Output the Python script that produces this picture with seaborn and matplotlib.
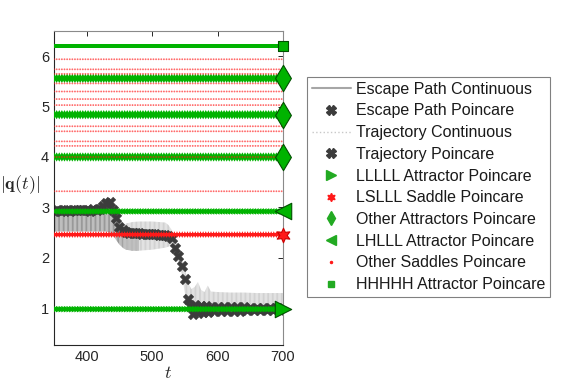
import numpy as np
import matplotlib
matplotlib.use("Agg")
import matplotlib.pyplot as plt
from matplotlib.lines import Line2D
import seaborn as sns

# ---------------- data ----------------
# Poincare samples of the escape path
esc_t = [350, 355, 360, 365, 370, 375, 380, 385, 390, 395, 400, 405, 410, 415, 420,
         425, 430, 435, 440, 445, 450, 455, 460, 465, 470, 475, 480, 485, 490, 495,
         500, 505, 510, 515, 520, 525, 530, 535, 540, 545, 550, 555]
esc_q = [2.93, 2.94, 2.93, 2.95, 2.94, 2.93, 2.95, 2.94, 2.94, 2.95, 2.94, 2.93, 2.96, 2.95, 2.97,
         3.02, 3.08, 3.10, 2.95, 2.78, 2.62, 2.55, 2.52, 2.50, 2.50, 2.49, 2.49, 2.48, 2.48, 2.48,
         2.47, 2.47, 2.46, 2.46, 2.45, 2.43, 2.40, 2.20, 2.03, 1.84, 1.58, 1.18]
# Poincare samples of the trajectory after the escape
trj_t = [558, 562, 566, 570, 574, 578, 582, 586, 590, 595, 600, 605, 610, 615, 620, 625,
         630, 635, 640, 645, 650, 655, 660, 665, 670, 675, 680, 685, 690, 695, 700]
trj_q = [1.05, 0.88, 1.06, 0.90, 1.04, 0.92, 1.05, 0.92, 1.03, 0.94, 1.03, 0.94, 1.02, 0.95, 1.02, 0.95,
         1.02, 0.95, 1.02, 0.96, 1.01, 0.96, 1.01, 0.96, 1.01, 0.96, 1.01, 0.97, 1.00, 0.97, 1.00]

# Envelope of the continuous escape path (solid)
escc_t = [350, 360, 370, 380, 390, 400, 410, 420, 430, 435, 440, 445, 450, 455, 460, 465, 470, 475, 480]
escc_lo = [2.52, 2.52, 2.52, 2.52, 2.52, 2.52, 2.52, 2.52, 2.52, 2.50, 2.45, 2.35, 2.26, 2.20, 2.16, 2.15, 2.14, 2.14, 2.14]
escc_hi = [2.86, 2.86, 2.86, 2.86, 2.86, 2.86, 2.86, 2.86, 2.88, 2.86, 2.80, 2.65, 2.55, 2.50, 2.50, 2.50, 2.50, 2.50, 2.50]

# Envelope of the continuous trajectory (dotted)
trjc_t = [455, 460, 470, 480, 490, 500, 510, 520, 525, 530, 535, 540, 545, 550, 555, 560, 565, 570,
          575, 580, 585, 590, 600, 620, 640, 660, 680, 700]
trjc_lo = [2.20, 2.16, 2.14, 2.14, 2.15, 2.16, 2.18, 2.20, 2.22, 2.25, 2.10, 1.90, 1.70, 1.30, 0.95, 0.92, 0.92, 0.92,
           0.92, 0.92, 0.93, 0.93, 0.94, 0.95, 0.95, 0.95, 0.95, 0.95]
trjc_hi = [2.60, 2.68, 2.71, 2.72, 2.72, 2.72, 2.71, 2.70, 2.65, 2.55, 2.40, 2.20, 2.00, 1.80, 1.50, 1.38, 1.42, 1.52,
           1.36, 1.32, 1.45, 1.33, 1.32, 1.31, 1.31, 1.30, 1.30, 1.30]

# Fixed-point levels
lllll_q = 0.98          # LLLLL attractor
lslll_q = 2.46          # LSLLL saddle
other_attr_q = [4.00, 4.84, 5.56]
lhlll_q = 2.92          # LHLLL attractor
hhhhh_q = 6.21          # HHHHH attractor
other_saddle_q = [3.32, 4.00, 4.22, 4.31, 4.51, 4.61, 5.03, 5.15, 5.30, 5.46, 5.65, 5.74, 5.94]

t_start, t_end, t_period = 350, 700, 4

labels = ["Escape Path Continuous", "Escape Path Poincare", "Trajectory Continuous",
          "Trajectory Poincare", "LLLLL Attractor Poincare", "LSLLL Saddle Poincare",
          "Other Attractors Poincare", "LHLLL Attractor Poincare", "Other Saddles Poincare",
          "HHHHH Attractor Poincare"]
xticks = [400, 500, 600, 700]
yticks = [1, 2, 3, 4, 5, 6]

# ---------------- style ----------------
sns.set_style("white")
plt.rcParams["font.family"] = ["Liberation Sans", "DejaVu Sans"]
plt.rcParams["mathtext.fontset"] = "cm"
plt.rcParams["hatch.linewidth"] = 0.55

GREEN = "#00b300"
EDGE_G = "#005000"
RED = "#ff1a1a"
DARK = "#3c3c3c"
AX = "#262626"

fig = plt.figure(figsize=(5.81, 3.88), dpi=100)
ax = fig.add_axes([0.093, 0.111, 0.394, 0.809])

# continuous trajectories (hatched envelopes)
ax.fill_between(escc_t, escc_lo, escc_hi, facecolor="none", edgecolor="#7a7a7a",
                hatch="|" * 13, linewidth=0, zorder=1)
ax.fill_between(trjc_t, trjc_lo, trjc_hi, facecolor="none", edgecolor="#c4c4c4",
                hatch="|" * 13, linewidth=0, zorder=1)

# poincare points of trajectory
sns.scatterplot(x=esc_t, y=esc_q, marker="X", s=60, color=DARK, edgecolor=DARK,
                linewidth=0.3, ax=ax, zorder=2, legend=False)
sns.scatterplot(x=trj_t, y=trj_q, marker="X", s=60, color=DARK, edgecolor=DARK,
                linewidth=0.3, ax=ax, zorder=2, legend=False)

tgrid = np.arange(t_start, t_end + 0.1, t_period)

def level(q, marker, color, s, alpha=1.0, z=3):
    sns.scatterplot(x=tgrid, y=np.full(len(tgrid), q), marker=marker, s=s, color=color,
                    edgecolor="none", linewidth=0, alpha=alpha, ax=ax, zorder=z, legend=False)

level(hhhhh_q, "s", GREEN, 9)
for q in other_attr_q:
    level(q, "d", GREEN, 22)
level(lhlll_q, "<", GREEN, 22)
level(lllll_q, ">", GREEN, 22)
level(lslll_q, (6, 1, 0), RED, 24)
for q in other_saddle_q:
    level(q, ".", RED, 7, alpha=0.65, z=4)

# large markers at the final time
def end(q, marker, color, ec, s):
    sns.scatterplot(x=[t_end], y=[q], marker=marker, s=s, color=color, edgecolor=ec,
                    linewidth=0.8, ax=ax, zorder=6, legend=False, clip_on=False)

end(hhhhh_q, "s", GREEN, EDGE_G, 60)
for q in other_attr_q:
    end(q, "d", GREEN, EDGE_G, 180)
end(lhlll_q, "<", GREEN, EDGE_G, 140)
end(lllll_q, ">", GREEN, EDGE_G, 140)
end(lslll_q, (6, 1, 0), RED, "#cc0000", 110)

# axes
ax.set_xlim(350, 700)
ax.set_ylim(0.27, 6.5)
ax.set_xticks(xticks)
ax.set_yticks(yticks)
ax.tick_params(direction="in", length=3.5, top=True, right=True, colors=AX,
               labelsize=10.5, width=0.7)
for side in ["left", "bottom"]:
    ax.spines[side].set_color(AX)
for side in ["top", "right"]:
    ax.spines[side].set_color("#8a8a8a")
for sp in ax.spines.values():
    sp.set_linewidth(0.8)
ax.set_xlabel(r"$t$", fontsize=13, color=AX, labelpad=1)
ax.set_ylabel(r"$|\mathbf{q}(t)|$", fontsize=13, color=AX, rotation=0,
              ha="center", va="center")
ax.yaxis.set_label_coords(-0.15, 0.51)

# legend
handles = [
    Line2D([], [], color="#a6a6a6", lw=1.5),
    Line2D([], [], ls="none", marker="X", color=DARK, ms=7),
    Line2D([], [], color="#c8c8c8", lw=1.0, ls=":"),
    Line2D([], [], ls="none", marker="X", color=DARK, ms=7),
    Line2D([], [], ls="none", marker=">", color="#22aa22", ms=7),
    Line2D([], [], ls="none", marker=(6, 1, 0), color=RED, ms=6),
    Line2D([], [], ls="none", marker="d", color="#22aa22", ms=7.5),
    Line2D([], [], ls="none", marker="<", color="#22aa22", ms=7),
    Line2D([], [], ls="none", marker=".", color=RED, ms=3),
    Line2D([], [], ls="none", marker="s", color="#22aa22", ms=5),
]
leg = fig.legend(handles, labels, loc="upper left", bbox_to_anchor=(307 / 581, 1 - 77 / 388),
                 bbox_transform=fig.transFigure, fontsize=11.5, frameon=True, fancybox=False,
                 edgecolor="#808080", framealpha=1, labelspacing=0.42, handlelength=2.45,
                 handletextpad=0.3, borderpad=0.3, borderaxespad=0)
leg.get_frame().set_linewidth(0.8)
for txt in leg.get_texts():
    txt.set_color("#1a1a1a")

fig.savefig("out.png", dpi=100)
